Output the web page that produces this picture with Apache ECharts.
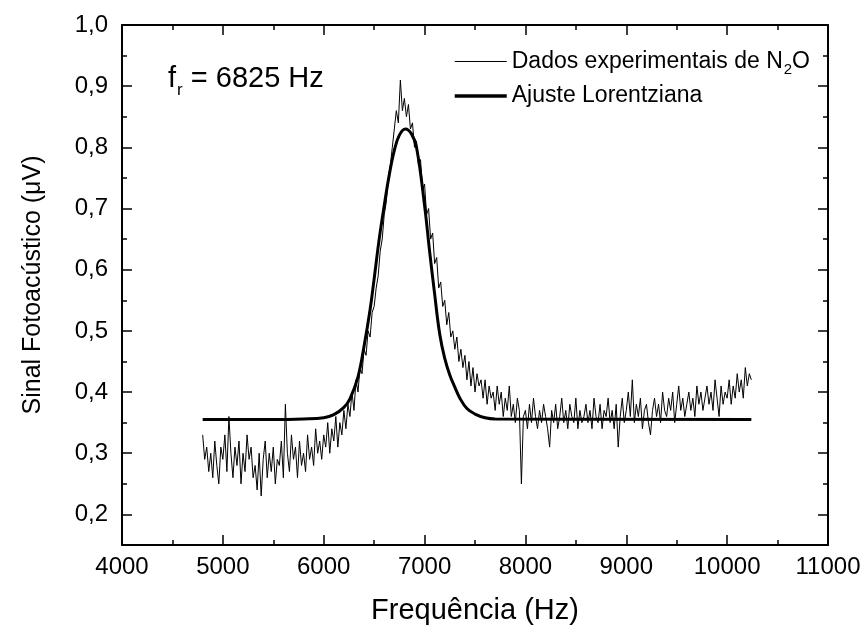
<!DOCTYPE html>
<html>
<head>
<meta charset="utf-8">
<script src="https://cdn.jsdelivr.net/npm/echarts@6/dist/echarts.min.js"></script>
<style>
html,body{margin:0;padding:0;background:#fff;}
#chart{width:866px;height:630px;}
</style>
</head>
<body>
<div id="chart"></div>
<script>
// ---- Data ----
const seriesNames = ['Dados experimentais de N2O', 'Ajuste Lorentziana'];
const freqStart = 4800;   // Hz, first sample
const freqStep = 20;      // Hz, sampling step
const signalValues = [
  0.33, 0.29, 0.31, 0.27, 0.30, 0.26, 0.32, 0.28, 0.25, 0.31,
  0.29, 0.33, 0.27, 0.36, 0.30, 0.26, 0.31, 0.28, 0.32, 0.25,
  0.30, 0.27, 0.33, 0.29, 0.31, 0.26, 0.28, 0.24, 0.30, 0.23,
  0.29, 0.32, 0.26, 0.30, 0.27, 0.31, 0.25, 0.29, 0.28, 0.32,
  0.26, 0.38, 0.30, 0.27, 0.33, 0.29, 0.31, 0.26, 0.32, 0.28,
  0.30, 0.27, 0.33, 0.29, 0.31, 0.28, 0.34, 0.30, 0.32, 0.29,
  0.33, 0.31, 0.35, 0.30, 0.34, 0.32, 0.36, 0.31, 0.35, 0.33,
  0.37, 0.34, 0.38, 0.36, 0.40, 0.37, 0.42, 0.40, 0.44, 0.43,
  0.47, 0.46, 0.50, 0.49, 0.53, 0.54, 0.57, 0.59, 0.63, 0.65,
  0.69, 0.71, 0.75, 0.77, 0.80, 0.83, 0.86, 0.84, 0.91, 0.86,
  0.88, 0.85, 0.87, 0.83, 0.84, 0.80, 0.81, 0.77, 0.78, 0.73,
  0.74, 0.69, 0.70, 0.65, 0.66, 0.61, 0.62, 0.57, 0.58, 0.54,
  0.55, 0.51, 0.53, 0.49, 0.50, 0.47, 0.49, 0.45, 0.47, 0.44,
  0.46, 0.42, 0.45, 0.41, 0.44, 0.40, 0.43, 0.41, 0.42, 0.39,
  0.42, 0.38, 0.41, 0.39, 0.40, 0.37, 0.41, 0.38, 0.40, 0.36,
  0.39, 0.37, 0.41, 0.36, 0.38, 0.35, 0.39, 0.37, 0.25, 0.36,
  0.37, 0.34, 0.38, 0.35, 0.39, 0.36, 0.34, 0.37, 0.35, 0.38,
  0.36, 0.34, 0.31, 0.37, 0.35, 0.38, 0.34, 0.36, 0.39, 0.35,
  0.37, 0.34, 0.38, 0.36, 0.35, 0.39, 0.34, 0.37, 0.35, 0.36,
  0.38, 0.35, 0.37, 0.34, 0.39, 0.36, 0.35, 0.38, 0.34, 0.37,
  0.36, 0.39, 0.35, 0.37, 0.34, 0.38, 0.31, 0.36, 0.39, 0.35,
  0.37, 0.40, 0.36, 0.42, 0.35, 0.38, 0.36, 0.39, 0.34, 0.37,
  0.38, 0.35, 0.33, 0.37, 0.39, 0.36, 0.38, 0.35, 0.40, 0.37,
  0.36, 0.39, 0.37, 0.40, 0.35, 0.38, 0.41, 0.37, 0.39, 0.36,
  0.38, 0.40, 0.37, 0.39, 0.36, 0.41, 0.38, 0.40, 0.37, 0.39,
  0.41, 0.38, 0.40, 0.37, 0.42, 0.39, 0.36, 0.41, 0.38, 0.40,
  0.39, 0.42, 0.38, 0.41, 0.39, 0.43, 0.40, 0.42, 0.39, 0.44,
  0.41, 0.43, 0.42
];
const fitFreqs = [
  4800, 5500, 5800, 6000, 6100, 6200, 6260, 6340, 6400, 6460,
  6500, 6550, 6600, 6650, 6700, 6750, 6810, 6870, 6920, 7000,
  7050, 7100, 7150, 7200, 7250, 7300, 7350, 7420, 7500, 7600,
  7700, 10240
];
const fitValues = [
  0.355, 0.355, 0.356, 0.358, 0.363, 0.375, 0.389, 0.425, 0.475, 0.535,
  0.585, 0.650, 0.705, 0.755, 0.795, 0.820, 0.830, 0.822, 0.800, 0.705,
  0.630, 0.560, 0.495, 0.455, 0.428, 0.408, 0.390, 0.373, 0.364, 0.358,
  0.356, 0.355
];
const xTickLabels = ['4000','5000','6000','7000','8000','9000','10000','11000'];
const yTickValues = [0.2, 0.3, 0.4, 0.5, 0.6, 0.7, 0.8, 0.9, 1.0];
const yTickLabels = ['0,2','0,3','0,4','0,5','0,6','0,7','0,8','0,9','1,0'];
const yMinorValues = [0.25, 0.35, 0.45, 0.55, 0.65, 0.75, 0.85, 0.95];

// ---- build ----
const signalData = signalValues.map((v, i) => [freqStart + i * freqStep, v]);
const fitData = fitFreqs.map((f, i) => [f, fitValues[i]]);
const FONT = 'Liberation Sans, Arial, sans-serif';
const X_MIN = 4000, X_MAX = 11000, Y_MIN = 0.15, Y_MAX = 1.0;

const chart = echarts.init(document.getElementById('chart'), null, {renderer: 'canvas'});
const axisLine = {show: true, onZero: false, lineStyle: {color: '#000', width: 2}};
const tickStyle = {color: '#000', width: 1.5};
const clear = 'rgba(0,0,0,0)';

chart.setOption({
  animation: false,
  backgroundColor: '#fff',
  grid: {left: 122, right: 38, top: 25, bottom: 85, containLabel: false},
  title: {
    text: '{a|f}{s|r}{a| = 6825 Hz}',
    left: 163, top: 57,
    textStyle: {
      fontWeight: 'normal',
      rich: {
        a: {fontFamily: FONT, fontSize: 29, fontWeight: 'normal', color: '#000', lineHeight: 34},
        s: {fontFamily: FONT, fontSize: 17, fontWeight: 'normal', color: '#000', padding: [22, 0, 0, 1], lineHeight: 34}
      }
    }
  },
  legend: {
    orient: 'vertical',
    left: 448, top: 45,
    itemWidth: 52, itemHeight: 16, itemGap: 7,
    itemStyle: {color: clear, borderColor: clear, borderWidth: 0},
    data: [
      {name: seriesNames[0], lineStyle: {width: 1, color: '#000'}},
      {name: seriesNames[1], lineStyle: {width: 3.5, color: '#000'}}
    ],
    formatter: function (name) {
      return name === seriesNames[0] ? '{t|Dados experimentais de N}{s|2}{t|O}' : '{t|' + name + '}';
    },
    textStyle: {
      fontFamily: FONT, fontSize: 23, color: '#000',
      rich: {
        t: {fontFamily: FONT, fontSize: 23, color: '#000'},
        s: {fontFamily: FONT, fontSize: 15, color: '#000', padding: [17, 0, 0, 1]}
      }
    }
  },
  xAxis: [{
    type: 'value', position: 'bottom', min: X_MIN, max: X_MAX, interval: 1000,
    name: 'Frequência (Hz)', nameLocation: 'middle', nameGap: 51,
    nameTextStyle: {fontFamily: FONT, fontSize: 29, color: '#000'},
    axisLine: axisLine,
    axisTick: {show: true, inside: true, length: 10, lineStyle: tickStyle},
    minorTick: {show: true, splitNumber: 2, length: 5, lineStyle: tickStyle},
    axisLabel: {fontFamily: FONT, fontSize: 24, color: '#000', margin: 10,
      formatter: function (v) { return xTickLabels[Math.round((v - X_MIN) / 1000)]; }},
    splitLine: {show: false}
  }, {
    type: 'value', position: 'top', min: X_MIN, max: X_MAX, interval: 1000,
    axisLine: axisLine,
    axisTick: {show: true, inside: true, length: 10, lineStyle: tickStyle},
    minorTick: {show: true, splitNumber: 2, length: 5, lineStyle: tickStyle},
    axisLabel: {show: false},
    splitLine: {show: false}
  }],
  yAxis: [{
    type: 'value', position: 'left', min: Y_MIN, max: Y_MAX,
    name: 'Sinal Fotoacústico (μV)', nameLocation: 'middle', nameGap: 76,
    nameTextStyle: {fontFamily: FONT, fontSize: 25, color: '#000'},
    axisLine: axisLine,
    axisTick: {show: true, inside: true, length: 10, lineStyle: tickStyle, customValues: yTickValues},
    axisLabel: {fontFamily: FONT, fontSize: 24, color: '#000', margin: 14, customValues: yTickValues,
      formatter: function (v) { return yTickLabels[Math.round((v - 0.2) * 10)]; }},
    splitLine: {show: false}
  }, {
    type: 'value', position: 'left', min: Y_MIN, max: Y_MAX,
    axisLine: {show: false},
    axisTick: {show: true, inside: true, length: 5, lineStyle: tickStyle, customValues: yMinorValues},
    axisLabel: {show: false},
    splitLine: {show: false}
  }, {
    type: 'value', position: 'right', min: Y_MIN, max: Y_MAX,
    axisLine: axisLine,
    axisTick: {show: true, inside: true, length: 10, lineStyle: tickStyle, customValues: yTickValues},
    axisLabel: {show: false},
    splitLine: {show: false}
  }, {
    type: 'value', position: 'right', min: Y_MIN, max: Y_MAX,
    axisLine: {show: false},
    axisTick: {show: true, inside: true, length: 5, lineStyle: tickStyle, customValues: yMinorValues},
    axisLabel: {show: false},
    splitLine: {show: false}
  }],
  series: [{
    name: seriesNames[0], type: 'line', data: signalData,
    xAxisIndex: 0, yAxisIndex: 0,
    symbol: 'none', showSymbol: false,
    lineStyle: {color: '#000', width: 1},
    itemStyle: {color: '#000'}, z: 2
  }, {
    name: seriesNames[1], type: 'line', data: fitData, smooth: 0.4,
    xAxisIndex: 0, yAxisIndex: 0,
    symbol: 'none', showSymbol: false,
    lineStyle: {color: '#000', width: 3},
    itemStyle: {color: '#000'}, z: 3
  }]
});
</script>
</body>
</html>
